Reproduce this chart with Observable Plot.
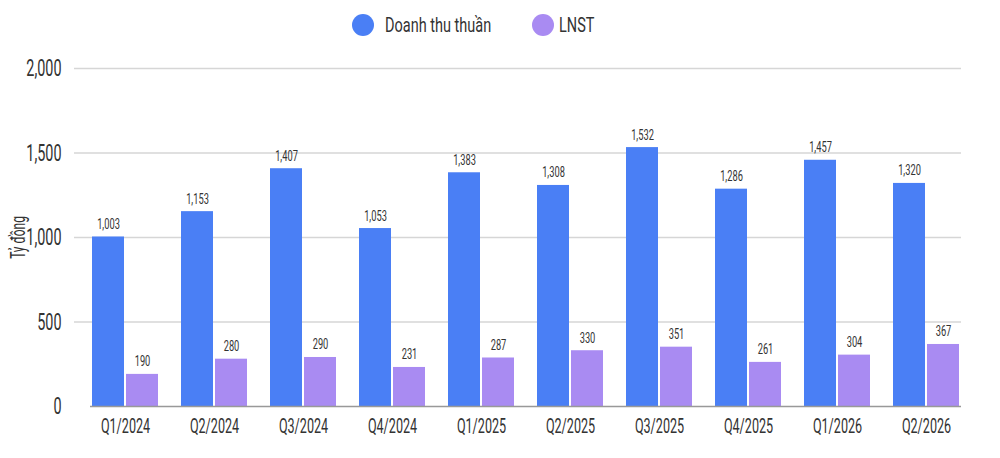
<!DOCTYPE html>
<html><head><meta charset="utf-8">
<script src="https://cdn.jsdelivr.net/npm/d3@7"></script>
<script src="https://cdn.jsdelivr.net/npm/@observablehq/plot@0.6"></script>
<style>
body{margin:0;background:#fff;font-family:Roboto,"Noto Sans",sans-serif;color:#333;}
#legend{height:50px;position:relative;font-size:21px;}
.item{position:absolute;top:0;height:50px;display:flex;align-items:center;}
.dot{width:22px;height:22px;border-radius:50%;flex:none;}
.lbl{display:inline-block;transform:scaleX(0.69);transform-origin:0 50%;white-space:nowrap;}
#chart svg{display:block;}
</style></head><body>
<div id="legend"></div><div id="chart"></div>
<script>
const periods = ["Q1/2024","Q2/2024","Q3/2024","Q4/2024","Q1/2025","Q2/2025","Q3/2025","Q4/2025","Q1/2026","Q2/2026"];
const revenue = [1003,1153,1407,1053,1383,1308,1532,1286,1457,1320];
const profit = [190,280,290,231,287,330,351,261,304,367];
const seriesNames = ["Doanh thu thuần","LNST"];
const seriesColors = ["#4a7ff5","#a98bf2"];
const yTicks = [0,500,1000,1500,2000];
const yLabel = "Tỷ đồng";
const legendLeft = [352, 532];
const legendGap = [11, 5];
const squeeze = 0.6;

const fmt = d3.format(",");
const legend = document.getElementById("legend");
seriesNames.forEach((n,i)=>{
  const it = document.createElement("div"); it.className="item"; it.style.left = legendLeft[i]+"px";
  const dot = document.createElement("span"); dot.className="dot"; dot.style.background=seriesColors[i];
  const t = document.createElement("span"); t.className="lbl"; t.textContent=n; t.style.marginLeft = legendGap[i]+"px";
  it.appendChild(dot); it.appendChild(t); legend.appendChild(it);
});

const rev = periods.map((p,i)=>({period:p, series:seriesNames[0], value:revenue[i]}));
const prof = periods.map((p,i)=>({period:p, series:seriesNames[1], value:profit[i]}));

const chart = Plot.plot({
  width:1000, height:408, marginTop:18, marginBottom:52, marginLeft:90, marginRight:39,
  style:{fontFamily:'Roboto,"Noto Sans",sans-serif', color:"#333", background:"#fff"},
  x:{domain:periods, paddingInner:0.262, paddingOuter:0, label:null},
  y:{domain:[0,2000], label:null},
  marks:[
    Plot.ruleY(yTicks.filter(d=>d>0), {stroke:"#d6d6d6", strokeWidth:1.3, insetLeft:-16}),
    Plot.barY(rev,{x:"period",y:"value",fill:seriesColors[0], insetRight:34}),
    Plot.barY(prof,{x:"period",y:"value",fill:seriesColors[1], insetLeft:34}),
    Plot.ruleY([0],{stroke:"#999", strokeWidth:1.3}),
    Plot.text(rev,{x:"period",y:"value",text:d=>fmt(d.value),dx:-17,dy:-8,lineAnchor:"bottom",fontSize:15.5,fill:"#333"}),
    Plot.text(prof,{x:"period",y:"value",text:d=>fmt(d.value),dx:17,dy:-8,lineAnchor:"bottom",fontSize:15.5,fill:"#333"}),
    Plot.axisX({tickSize:0,tickPadding:12,fontSize:21,label:null}),
    Plot.axisY({ticks:yTicks,tickSize:0,tickPadding:29,fontSize:24,tickFormat:fmt,label:null}),
    Plot.axisY({ticks:[],tickSize:0,fontSize:20,label:yLabel,labelAnchor:"center",labelArrow:"none",labelOffset:80})
  ]
});
// condense all chart text horizontally (the reference uses a narrow typeface)
chart.querySelectorAll("text").forEach(el=>{
  const t = el.getAttribute("transform") || "";
  el.setAttribute("transform", (t + ` scale(${squeeze},1)`).trim());
});
document.getElementById("chart").appendChild(chart);
</script>
</body></html>
